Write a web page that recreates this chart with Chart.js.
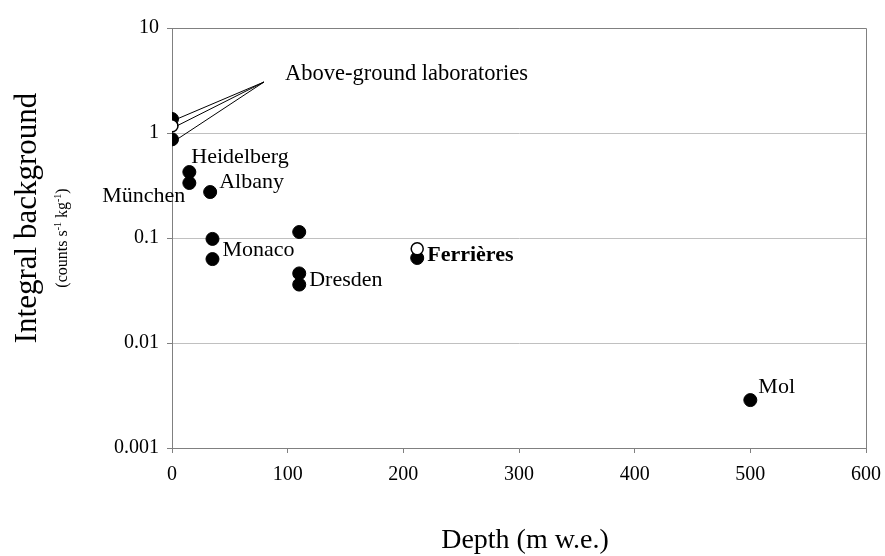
<!DOCTYPE html>
<html>
<head>
<meta charset="utf-8">
<script src="https://cdn.jsdelivr.net/npm/chart.js@4"></script>
<style>
  html, body { margin: 0; padding: 0; background: #fff; }
  #wrap { width: 885px; height: 556px; }
</style>
</head>
<body>
<div id="wrap"><canvas id="chart" width="885" height="556"></canvas></div>
<script>
// filled markers
const depths = [0, 0, 15, 15, 33, 35, 35, 110, 110, 110, 212, 500];
const background = [1.36, 0.87, 0.425, 0.334, 0.274, 0.098, 0.063, 0.114, 0.046, 0.036, 0.0645, 0.00286];
// open markers
const openDepths = [0, 212];
const openBackground = [1.17, 0.079];
// site names, index into filled series
const siteNames = ["Heidelberg", "München", "Albany", "Monaco", "Dresden", "Ferrières", "Mol"];
const sitePoint = [2, 3, 4, 5, 8, 10, 11];
const aboveGround = [0, 1]; // filled indices of surface labs (plus open index 0)
const yTicks = [0.001, 0.01, 0.1, 1, 10];
const xTicks = [0, 100, 200, 300, 400, 500, 600];

const FONT = "'Liberation Serif', 'Times New Roman', serif";

const toPts = (xs, ys) => xs.map((x, i) => ({ x: x, y: ys[i] }));

// label placement: [dx, dy, align, bold]
const labelPlace = {
  "Heidelberg": [2, -15, "left", false],
  "München": [-4, 13, "right", false],
  "Albany": [9, -10, "left", false],
  "Monaco": [10, 11, "left", false],
  "Dresden": [10, 7, "left", false],
  "Ferrières": [10, -3, "left", true],
  "Mol": [8, -13, "left", false]
};

const annotations = {
  id: "annotations",
  afterDatasetsDraw(chart) {
    const ctx = chart.ctx;
    const xs = chart.scales.x, ys = chart.scales.y;
    const area = chart.chartArea;
    ctx.save();
    // frame on top and right
    ctx.strokeStyle = "#808080";
    ctx.lineWidth = 1;
    ctx.beginPath();
    ctx.moveTo(Math.round(area.left) + 0.5, Math.round(area.top) + 0.5);
    ctx.lineTo(Math.round(area.right) + 0.5, Math.round(area.top) + 0.5);
    ctx.lineTo(Math.round(area.right) + 0.5, Math.round(area.bottom) + 0.5);
    ctx.stroke();

    // site labels
    ctx.fillStyle = "#000";
    ctx.textBaseline = "middle";
    siteNames.forEach((name, i) => {
      const k = sitePoint[i];
      const p = labelPlace[name];
      const px = xs.getPixelForValue(depths[k]);
      const py = ys.getPixelForValue(background[k]);
      ctx.font = (p[3] ? "bold " : "") + "22px " + FONT;
      ctx.textAlign = p[2];
      ctx.fillText(name, px + p[0], py + p[1]);
    });

    // above-ground callout
    const x0 = xs.getPixelForValue(0);
    const apexX = x0 + 92, apexY = ys.getPixelForValue(1) - 51;
    const targets = aboveGround.map(k => ys.getPixelForValue(background[k]));
    targets.push(ys.getPixelForValue(openBackground[0]));
    ctx.strokeStyle = "#000";
    ctx.lineWidth = 1;
    targets.forEach(ty => {
      ctx.beginPath();
      ctx.moveTo(apexX, apexY);
      ctx.lineTo(x0 + 5, ty);
      ctx.stroke();
    });
    ctx.font = "22.5px " + FONT;
    ctx.textAlign = "left";
    ctx.textBaseline = "alphabetic";
    ctx.fillText("Above-ground laboratories", apexX + 21, apexY - 2);
    ctx.restore();
  },
  afterDraw(chart) {
    const ctx = chart.ctx;
    ctx.save();
    ctx.fillStyle = "#000";
    // x title
    ctx.font = "28px " + FONT;
    ctx.textAlign = "center";
    ctx.textBaseline = "alphabetic";
    ctx.fillText("Depth (m w.e.)", 525, 548);

    // y title
    ctx.translate(28, 218);
    ctx.rotate(-Math.PI / 2);
    ctx.font = "31px " + FONT;
    ctx.textBaseline = "middle";
    ctx.fillText("Integral background", 0, 0);
    ctx.restore();

    // y subtitle with superscripts
    ctx.save();
    ctx.translate(61, 238);
    ctx.rotate(-Math.PI / 2);
    ctx.fillStyle = "#000";
    const parts = [["(counts s", false], ["-1", true], [" kg", false], ["-1", true], [")", false]];
    const big = "16px " + FONT, small = "10px " + FONT;
    let total = 0;
    parts.forEach(p => { ctx.font = p[1] ? small : big; total += ctx.measureText(p[0]).width; });
    let cx = -total / 2;
    ctx.textAlign = "left";
    ctx.textBaseline = "alphabetic";
    parts.forEach(p => {
      ctx.font = p[1] ? small : big;
      ctx.fillText(p[0], cx, p[1] ? 0 : 6);
      cx += ctx.measureText(p[0]).width;
    });
    ctx.restore();
  }
};

new Chart(document.getElementById("chart"), {
  type: "scatter",
  data: {
    datasets: [
      {
        label: "filled",
        data: toPts(depths, background),
        pointRadius: 6.5,
        pointHoverRadius: 6.5,
        pointBackgroundColor: "#000",
        pointBorderColor: "#000",
        pointBorderWidth: 1,
        order: 2
      },
      {
        label: "open",
        data: toPts(openDepths, openBackground),
        pointRadius: 6,
        pointHoverRadius: 6,
        pointBackgroundColor: "#fff",
        pointBorderColor: "#000",
        pointBorderWidth: 1.5,
        order: 1
      }
    ]
  },
  options: {
    responsive: false,
    animation: false,
    devicePixelRatio: 1,
    layout: { padding: { top: 28, right: 19, left: 0, bottom: 0 } },
    plugins: {
      legend: { display: false },
      tooltip: { enabled: false }
    },
    scales: {
      x: {
        type: "linear",
        min: 0,
        max: 600,
        afterBuildTicks: s => { s.ticks = xTicks.map(v => ({ value: v })); },
        afterFit: s => { s.height = 108; s.paddingLeft = 0; s.paddingRight = 0; },
        ticks: { font: { family: FONT, size: 20 }, color: "#000", padding: 10, maxRotation: 0 },
        grid: { drawOnChartArea: false, tickLength: 5, tickColor: "#808080" },
        border: { color: "#808080" }
      },
      y: {
        type: "logarithmic",
        min: 0.001,
        max: 10,
        afterBuildTicks: s => { s.ticks = yTicks.map(v => ({ value: v })); },
        afterFit: s => { s.width = 172; s.paddingTop = 0; s.paddingBottom = 0; },
        ticks: {
          font: { family: FONT, size: 20 },
          color: "#000",
          padding: 8,
          callback: v => String(v)
        },
        grid: { color: "#c0c0c0", tickLength: 5, tickColor: "#808080" },
        border: { color: "#808080" }
      }
    }
  },
  plugins: [annotations]
});
</script>
</body>
</html>
